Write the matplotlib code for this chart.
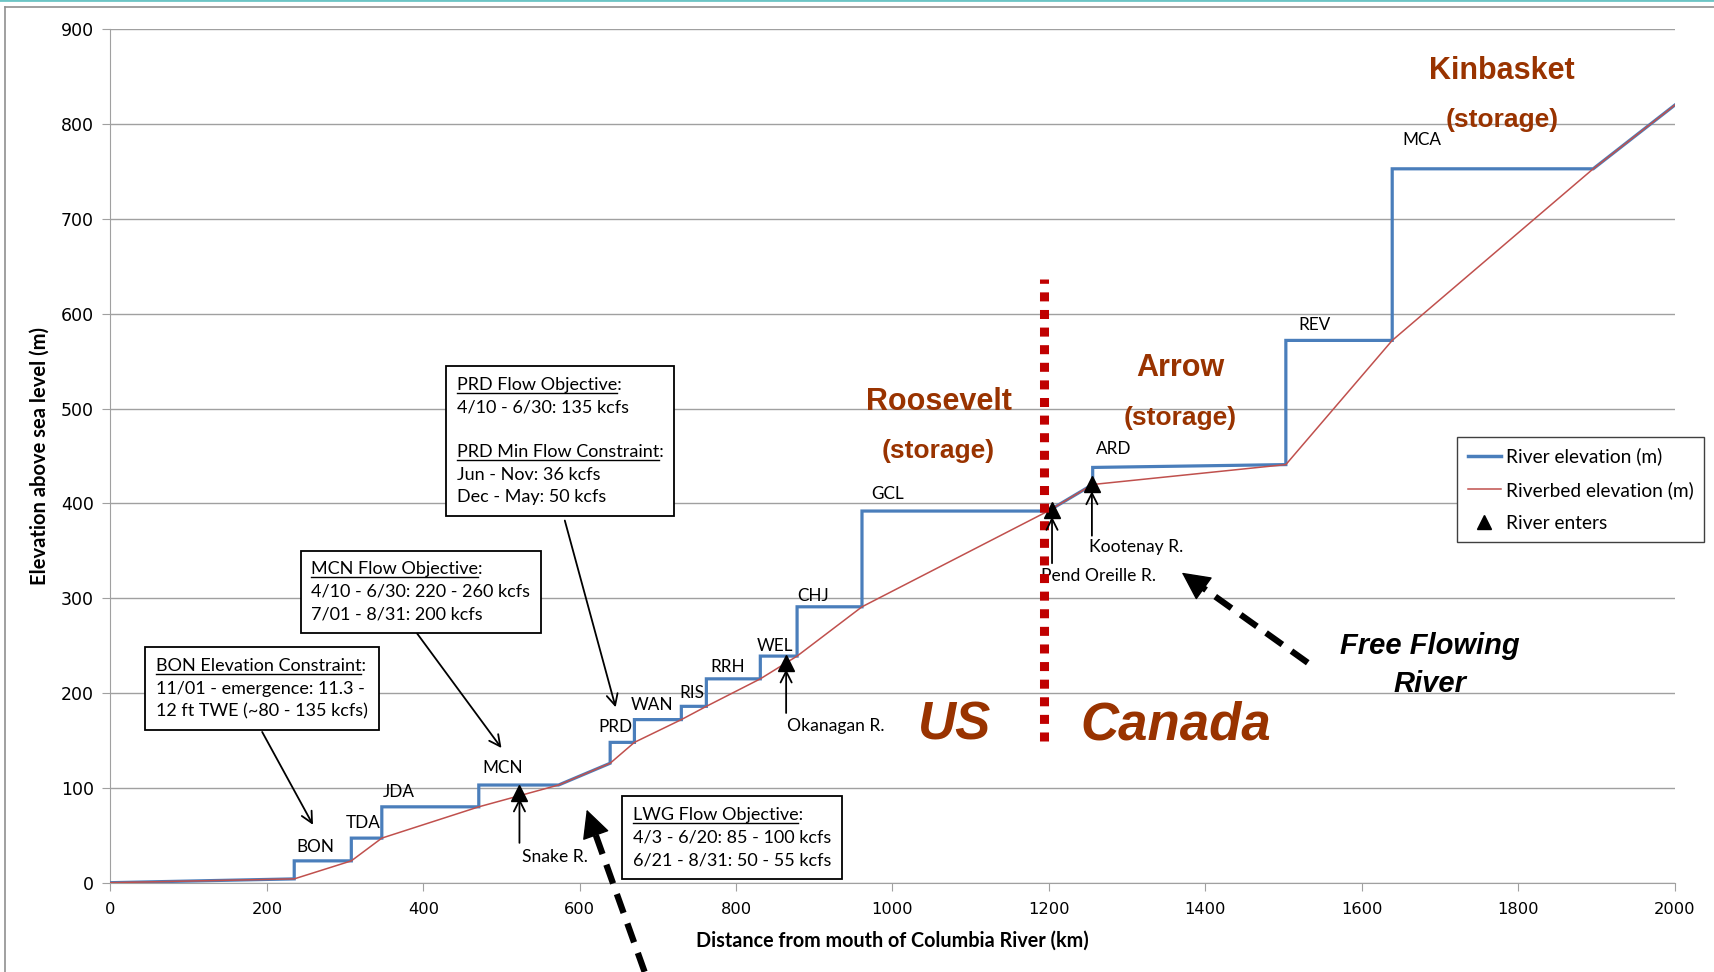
import matplotlib
matplotlib.use("Agg")
import matplotlib.pyplot as plt
from matplotlib.lines import Line2D

# ---- data ----
river_km = [0, 235, 235, 308, 308, 347, 347, 471, 471, 573, 639, 639, 670, 670, 730, 730,
            762, 762, 831, 831, 878, 878, 961, 961, 1199, 1256, 1256, 1503, 1503, 1639, 1639,
            1896, 2000]
river_m = [0, 4, 23, 23, 47, 47, 80, 80, 103, 103, 126, 148, 148, 172, 172, 186,
           186, 215, 215, 239, 239, 291, 291, 392, 392, 420, 438, 441, 572, 572, 753,
           753, 820]
bed_km = [0, 235, 308, 347, 471, 573, 639, 670, 730, 762, 831, 878, 961, 1199, 1256, 1503,
          1639, 1896, 2000]
bed_m = [0, 4, 23, 47, 80, 103, 126, 148, 172, 186, 215, 239, 291, 392, 420, 441,
         572, 753, 820]

dam_names = ['BON', 'TDA', 'JDA', 'MCN', 'PRD', 'WAN', 'RIS', 'RRH', 'WEL', 'CHJ', 'GCL',
             'ARD', 'REV', 'MCA']
dam_label_km = [262, 323, 369, 501, 646, 692, 743, 789, 850, 898, 994, 1283, 1540, 1677]
dam_label_m = [38, 63, 96, 121, 164, 187, 200, 228, 250, 302, 410, 457, 588, 783]

trib_names = ['Snake R.', 'Okanagan R.', 'Pend Oreille R.', 'Kootenay R.']
trib_km = [523, 864, 1204, 1255]
trib_m = [95, 232, 393, 421]

x_ticks = [0, 200, 400, 600, 800, 1000, 1200, 1400, 1600, 1800, 2000]
y_ticks = [0, 100, 200, 300, 400, 500, 600, 700, 800, 900]

BLUE = '#4A7EBB'
RED = '#C0504D'
BROWN = '#993300'
LATO = 'Lato'
ARIAL = 'Liberation Sans'

fig = plt.figure(figsize=(17.15, 9.72), dpi=100)
ax = fig.add_axes([0.0644, 0.0919, 0.9120, 0.8778])

ax.set_xlim(0, 2000)
ax.set_ylim(0, 900)
ax.set_xticks(x_ticks)
ax.set_yticks(y_ticks)
ax.tick_params(axis='x', labelsize=11.7, length=6, color='#A0A0A0', pad=8)
ax.tick_params(axis='y', labelsize=12.5, length=6, color='#A0A0A0', pad=6)
for s in ['top', 'right']:
    ax.spines[s].set_visible(False)
for s in ['left', 'bottom']:
    ax.spines[s].set_color('#A0A0A0')
ax.yaxis.grid(True, color='#A0A0A0', lw=1.0)
ax.set_axisbelow(True)

ax.set_xlabel('Distance from mouth of Columbia River (km)', fontfamily=LATO,
              fontweight='bold', fontsize=14.2, labelpad=10)
ax.set_ylabel('Elevation above sea level (m)', fontfamily=LATO,
              fontweight='bold', fontsize=14.5, labelpad=8)

# lines
ax.plot(river_km, river_m, color=BLUE, lw=2.3, zorder=3, solid_joinstyle='miter')
ax.plot(bed_km, bed_m, color=RED, lw=1.1, zorder=4)
ax.plot(trib_km, trib_m, linestyle='none', marker='^', color='black', ms=11, zorder=5)

# dam labels
for n, x, y in zip(dam_names, dam_label_km, dam_label_m):
    ax.text(x, y, n, ha='center', va='center', fontfamily=LATO, fontsize=12.3)

# tributaries
trib_text = [(568, 27), (927, 165), (1264, 323), (1312, 354)]
trib_arrow = [(42, 89), (179, 225), (337, 386), (366, 413)]
for n, x, (tx, ty), (a0, a1) in zip(trib_names, trib_km, trib_text, trib_arrow):
    ax.text(tx, ty, n, ha='center', va='center', fontfamily=LATO, fontsize=12.6)
    ax.annotate('', xy=(x, a1), xytext=(x, a0),
                arrowprops=dict(arrowstyle='->', lw=1.3, color='black',
                                shrinkA=0, shrinkB=0, mutation_scale=20), zorder=6)

# text boxes: (anchor, lines, indices of underlined headings)
boxes = [
    ((42, 250), ['BON Elevation Constraint:', '11/01 - emergence: 11.3 -',
                 '12 ft TWE (~80 - 135 kcfs)'], [0]),
    ((241, 352), ['MCN Flow Objective:', '4/10 - 6/30: 220 - 260 kcfs',
                  '7/01 - 8/31: 200 kcfs'], [0]),
    ((427, 547), ['PRD Flow Objective:', '4/10 - 6/30: 135 kcfs', '',
                  'PRD Min Flow Constraint:', 'Jun - Nov: 36 kcfs', 'Dec - May: 50 kcfs'],
     [0, 3]),
    ((652, 93), ['LWG Flow Objective:', '4/3 - 6/20: 85 - 100 kcfs',
                 '6/21 - 8/31: 50 - 55 kcfs'], [0]),
]
box_texts = []
for (bx, by), lines, ul in boxes:
    t = ax.annotate('\n'.join(lines), xy=(bx, by), xytext=(9, -9),
                    textcoords='offset points', ha='left', va='top', fontfamily=LATO,
                    fontsize=13, linespacing=1.5,
                    bbox=dict(boxstyle='square,pad=0.6', fc='white', ec='black', lw=1.3),
                    zorder=7)
    box_texts.append((t, lines, ul))

# box pointer arrows
for (x0, y0), (x1, y1) in [((194, 159), (259, 61)), ((392, 263), (500, 142)),
                           ((581, 382), (646, 185))]:
    ax.annotate('', xy=(x1, y1), xytext=(x0, y0),
                arrowprops=dict(arrowstyle='->', lw=1.3, color='black',
                                shrinkA=0, shrinkB=0, mutation_scale=20), zorder=6)

# thick dashed arrows
def dashed_arrow(x0, y0, x1, y1, frac):
    xm = x1 + (x0 - x1) * frac
    ym = y1 + (y0 - y1) * frac
    ax.plot([x0, xm], [y0, ym], color='black', lw=4.5, dashes=(3.2, 1.8),
            solid_capstyle='butt', dash_capstyle='butt', clip_on=False, zorder=6)
    ax.annotate('', xy=(x1, y1), xytext=(xm, ym),
                arrowprops=dict(arrowstyle='-|>,head_length=1.3,head_width=0.65',
                                lw=1.0, color='black', shrinkA=0, shrinkB=0,
                                mutation_scale=14), annotation_clip=False, zorder=6)

dashed_arrow(683, -94, 609, 77, 0.12)
dashed_arrow(1531, 232, 1370, 327, 0.14)

# border line
ax.plot([1194, 1194], [149, 637], color='#C00000', lw=6.5, dashes=(1, 0.95),
        dash_capstyle='butt', zorder=5)

# region labels
for x, y, s, fs in [(1059, 507, 'Roosevelt', 22), (1059, 455, '(storage)', 19),
                    (1368, 543, 'Arrow', 22), (1368, 490, '(storage)', 19),
                    (1779, 856, 'Kinbasket', 22), (1779, 804, '(storage)', 19)]:
    ax.text(x, y, s, ha='center', va='center', fontfamily=ARIAL, fontweight='bold',
            fontsize=fs, color=BROWN)
ax.text(1080, 166, 'US', ha='center', va='center', fontfamily=ARIAL,
        fontweight='bold', fontstyle='italic', fontsize=38, color=BROWN)
ax.text(1362, 166, 'Canada', ha='center', va='center', fontfamily=ARIAL,
        fontweight='bold', fontstyle='italic', fontsize=38, color=BROWN)
ax.text(1687, 250, 'Free Flowing', ha='center', va='center', fontfamily=ARIAL,
        fontweight='bold', fontstyle='italic', fontsize=21, color='black')
ax.text(1687, 210, 'River', ha='center', va='center', fontfamily=ARIAL,
        fontweight='bold', fontstyle='italic', fontsize=21, color='black')

# legend
handles = [Line2D([], [], color=BLUE, lw=2.5),
           Line2D([], [], color=RED, lw=1.1),
           Line2D([], [], color='black', marker='^', linestyle='none', ms=10)]
labels = ['River elevation (m)', 'Riverbed elevation (m)', 'River enters']
fig.legend(handles, labels, loc='upper left', bbox_to_anchor=(0.8496, 0.5504),
           prop={'family': LATO, 'size': 13.8}, frameon=True, fancybox=False,
           edgecolor='#404040', framealpha=1, labelspacing=0.82, handlelength=1.75,
           handletextpad=0.25, borderpad=0.55, borderaxespad=0)

# figure frame lines
fig.add_artist(Line2D([0, 1], [0.9995, 0.9995], color='#6CC5C5', lw=2,
                      transform=fig.transFigure))
fig.add_artist(Line2D([5 / 1715, 1], [1 - 7.5 / 972, 1 - 7.5 / 972], color='#909090',
                      lw=1.2, transform=fig.transFigure))
fig.add_artist(Line2D([5 / 1715, 5 / 1715], [0, 1 - 7.5 / 972], color='#909090',
                      lw=1.2, transform=fig.transFigure))

# underline headings in boxes
fig.canvas.draw()
renderer = fig.canvas.get_renderer()
W, H = fig.bbox.width, fig.bbox.height
for t, lines, ul in box_texts:
    posx, posy = t.get_transform().transform(t.get_unitless_position())
    _, info, _ = t._get_layout(renderer)
    for i in ul:
        entry = info[i]
        lx, ly = entry[-2], entry[-1]
        head = lines[i].rstrip(':')
        hw, _, _ = renderer.get_text_width_height_descent(head, t.get_fontproperties(),
                                                          ismath=False)
        x0 = posx + lx
        yb = posy + ly - 3
        fig.add_artist(Line2D([x0 / W, (x0 + hw) / W], [yb / H, yb / H], color='black',
                              lw=1.0, transform=fig.transFigure, zorder=10))

fig.savefig('out.png', dpi=100)
